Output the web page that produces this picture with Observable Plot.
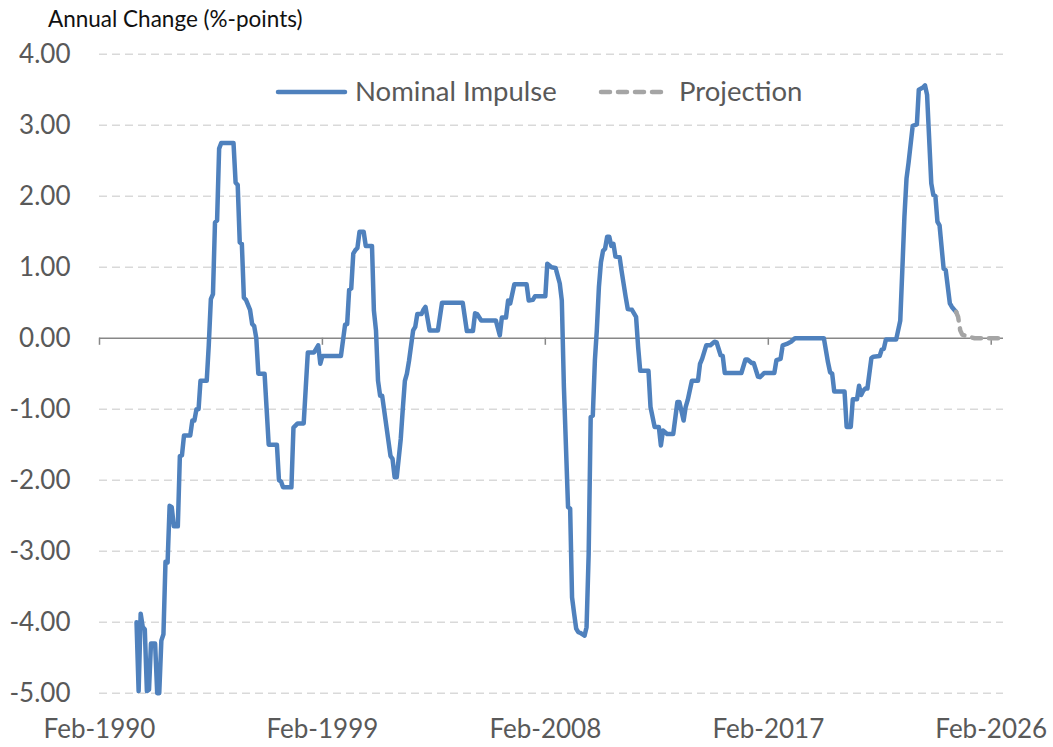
<!DOCTYPE html>
<html>
<head>
<meta charset="utf-8">
<script src="https://cdn.jsdelivr.net/npm/d3@7"></script>
<script src="https://cdn.jsdelivr.net/npm/@observablehq/plot@0.6"></script>
<style>
  html, body { margin: 0; padding: 0; background: #ffffff; }
  #chart { width: 1053px; height: 747px; }
</style>
</head>
<body>
<div id="chart"></div>
<script>
// ---- data ----
const yTitle = "Annual Change (%-points)";
const seriesNames = ["Nominal Impulse", "Projection"];
const seriesColors = ["#4f81bd", "#a5a5a5"];

const xTickDates = ["1990-02", "1999-02", "2008-02", "2017-02", "2026-02"];
const xTickLabels = ["Feb-1990", "Feb-1999", "Feb-2008", "Feb-2017", "Feb-2026"];
const yTicks = [4, 3, 2, 1, 0, -1, -2, -3, -4, -5];

const impulseDates = [
  "1991-08","1991-09","1991-10","1991-11","1991-12","1992-01","1992-02","1992-03","1992-05","1992-06",
  "1992-07","1992-08","1992-09","1992-10","1992-11","1992-12","1993-01","1993-02","1993-04","1993-05",
  "1993-06","1993-07","1993-10","1993-11","1993-12","1994-01","1994-02","1994-03","1994-06","1994-07",
  "1994-08","1994-09","1994-10","1994-11","1994-12","1995-01","1995-07","1995-08","1995-09","1995-10",
  "1995-11","1995-12","1996-01","1996-03","1996-04","1996-05","1996-06","1996-07","1996-10","1996-12",
  "1997-04","1997-05","1997-06","1997-07","1997-11","1997-12","1998-02","1998-05","1998-06","1998-07",
  "1998-10","1998-12","1999-01","1999-02","1999-11","2000-01","2000-02","2000-03","2000-04","2000-05",
  "2000-06","2000-07","2000-08","2000-10","2000-11","2001-02","2001-03","2001-04","2001-05","2001-06",
  "2001-07","2001-11","2001-12","2002-01","2002-02","2002-04","2002-05","2002-06","2002-07","2002-08",
  "2002-10","2002-11","2002-12","2003-02","2003-03","2003-04","2003-06","2003-10","2003-12","2004-10",
  "2004-12","2005-03","2005-04","2005-05","2005-07","2006-02","2006-04","2006-05","2006-07","2006-08",
  "2006-09","2006-11","2007-05","2007-06","2007-08","2007-09","2008-02","2008-03","2008-05","2008-07",
  "2008-09","2008-10","2008-11","2009-01","2009-02","2009-03","2009-04","2009-05","2009-06","2009-07",
  "2009-09","2009-10","2009-11","2009-12","2010-01","2010-02","2010-03","2010-04","2010-05","2010-06",
  "2010-07","2010-08","2010-09","2010-10","2010-11","2010-12","2011-02","2011-03","2011-05","2011-06",
  "2011-08","2011-10","2011-11","2011-12","2012-04","2012-05","2012-07","2012-09","2012-10","2012-11",
  "2013-01","2013-04","2013-06","2013-07","2013-09","2013-10","2013-11","2014-01","2014-04","2014-05",
  "2014-06","2014-08","2014-10","2014-12","2015-01","2015-03","2015-04","2015-05","2016-01","2016-03",
  "2016-04","2016-06","2016-07","2016-09","2016-10","2016-12","2017-05","2017-06","2017-08","2017-09",
  "2017-11","2018-01","2018-03","2019-05","2019-07","2019-08","2019-09","2019-10","2020-03","2020-04",
  "2020-06","2020-07","2020-09","2020-10","2020-11","2020-12","2021-01","2021-02","2021-04","2021-05",
  "2021-08","2021-09","2021-10","2021-11","2022-04","2022-06","2022-07","2022-08","2022-09","2022-10",
  "2022-12","2023-02","2023-03","2023-05","2023-06","2023-07","2023-09","2023-10","2023-11","2023-12",
  "2024-01","2024-03","2024-04","2024-06","2024-07","2024-09"
];
const impulseValues = [
  -4.0,-4.97,-3.88,-4.07,-4.1,-4.97,-4.95,-4.3,-4.3,-5.0,
  -5.0,-4.26,-4.17,-3.15,-3.16,-2.36,-2.38,-2.65,-2.65,-1.66,
  -1.65,-1.37,-1.37,-1.16,-1.16,-1.0,-1.0,-0.6,-0.6,-0.1,
  0.55,0.62,1.63,1.66,2.67,2.75,2.75,2.19,2.16,1.35,
  1.33,0.57,0.54,0.4,0.2,0.17,0.0,-0.5,-0.5,-1.5,
  -1.5,-2.0,-2.02,-2.1,-2.1,-1.26,-1.2,-1.2,-0.69,-0.2,
  -0.2,-0.1,-0.36,-0.25,-0.25,0.19,0.2,0.68,0.7,1.19,
  1.24,1.27,1.5,1.5,1.3,1.3,0.39,0.11,-0.6,-0.81,
  -0.81,-1.66,-1.7,-1.96,-1.96,-1.42,-1.0,-0.6,-0.5,-0.32,
  0.11,0.16,0.34,0.34,0.4,0.44,0.11,0.11,0.5,0.5,
  0.1,0.1,0.35,0.34,0.25,0.25,0.04,0.29,0.29,0.53,
  0.49,0.76,0.76,0.53,0.54,0.59,0.59,1.05,1.0,0.99,
  0.77,0.53,-0.69,-2.38,-2.4,-3.65,-3.88,-4.09,-4.14,-4.15,
  -4.19,-4.07,-3.04,-1.11,-1.09,-0.31,0.11,0.72,1.07,1.23,
  1.26,1.43,1.43,1.3,1.33,1.15,1.14,0.95,0.58,0.41,
  0.4,0.3,-0.13,-0.46,-0.46,-0.97,-1.25,-1.25,-1.51,-1.3,
  -1.35,-1.35,-0.9,-0.9,-1.16,-0.97,-0.87,-0.6,-0.6,-0.36,
  -0.29,-0.1,-0.1,-0.05,-0.06,-0.24,-0.25,-0.49,-0.49,-0.3,
  -0.3,-0.35,-0.35,-0.54,-0.55,-0.49,-0.49,-0.31,-0.29,-0.1,
  -0.08,-0.05,0.0,0.0,-0.34,-0.48,-0.5,-0.75,-0.75,-1.25,
  -1.25,-0.86,-0.86,-0.67,-0.8,-0.74,-0.71,-0.71,-0.28,-0.26,
  -0.25,-0.16,-0.15,-0.02,-0.02,0.25,0.96,1.71,2.25,2.47,
  2.99,3.01,3.5,3.53,3.56,3.43,2.18,2.02,2.0,1.64,
  1.59,0.98,0.96,0.49,0.44,0.37
];

const projectionDates = ["2024-09","2024-10","2024-11","2024-12","2025-03","2025-06","2026-07"];
const projectionValues = [0.37, 0.3, 0.11, 0.05, 0.02, 0.0, 0.0];

// ---- build tables ----
const parse = d3.utcParse("%Y-%m");
const impulse = impulseDates.map((d, i) => ({date: parse(d), value: impulseValues[i]}));
const projection = projectionDates.map((d, i) => ({date: parse(d), value: projectionValues[i]}));
const xTicks = xTickDates.map(parse);
const xLabelOf = new Map(xTicks.map((d, i) => [+d, xTickLabels[i]]));

const FONT = "Lato, 'Open Sans', sans-serif";

const chart = Plot.plot({
  width: 1053,
  height: 747,
  marginLeft: 99,
  marginRight: 50,
  marginTop: 53.7,
  marginBottom: 54.3,
  style: {fontFamily: FONT, background: "#ffffff", overflow: "visible"},
  x: {type: "utc", domain: [parse("1990-02"), parse("2026-08")], label: null},
  y: {domain: [-5, 4], label: null},
  marks: [
    Plot.ruleY(yTicks.filter(v => v !== 0), {stroke: "#d9d9d9", strokeWidth: 1.4, strokeDasharray: "8,5"}),
    Plot.ruleY([0], {stroke: "#878787", strokeWidth: 1.5}),
    Plot.ruleX(xTicks, {x: d => d, y1: 0, y2: -0.1, stroke: "#878787", strokeWidth: 1.5}),
    Plot.axisY({ticks: yTicks, tickFormat: d => d.toFixed(2), tickSize: 0, tickPadding: 29,
                fontSize: 26, fill: "#595959", label: null}),
    Plot.axisX({ticks: xTicks, tickFormat: d => xLabelOf.get(+d), tickSize: 0, tickPadding: 26,
                fontSize: 26, fill: "#595959", label: null}),
    Plot.line(impulse, {x: "date", y: "value", stroke: seriesColors[0], strokeWidth: 4.5,
                        strokeLinejoin: "round", strokeLinecap: "round"}),
    Plot.line(projection, {x: "date", y: "value", stroke: seriesColors[1], strokeWidth: 4.5,
                           strokeDasharray: "9,8", strokeLinejoin: "round", strokeLinecap: "round"})
  ]
});

document.getElementById("chart").appendChild(chart);

// ---- title and legend drawn into the same svg ----
const svg = d3.select(chart);
svg.append("text")
  .attr("x", 48).attr("y", 27)
  .attr("text-anchor", "start")
  .attr("font-family", FONT).attr("font-size", 22.5).attr("fill", "#111111")
  .text(yTitle);

const legend = svg.append("g")
  .attr("text-anchor", "start")
  .attr("font-family", FONT).attr("font-size", 27.5).attr("fill", "#595959");
const legendItems = [
  {x1: 278, x2: 345, tx: 355, dash: null},
  {x1: 601, x2: 668, tx: 679, dash: "9,8"}
];
legendItems.forEach((it, i) => {
  const ln = legend.append("line")
    .attr("x1", it.x1).attr("x2", it.x2).attr("y1", 92).attr("y2", 92)
    .attr("stroke", seriesColors[i]).attr("stroke-width", 4.5).attr("stroke-linecap", "round");
  if (it.dash) ln.attr("stroke-dasharray", it.dash);
  legend.append("text").attr("x", it.tx).attr("y", 101).attr("text-anchor", "start").text(seriesNames[i]);
});
</script>
</body>
</html>
